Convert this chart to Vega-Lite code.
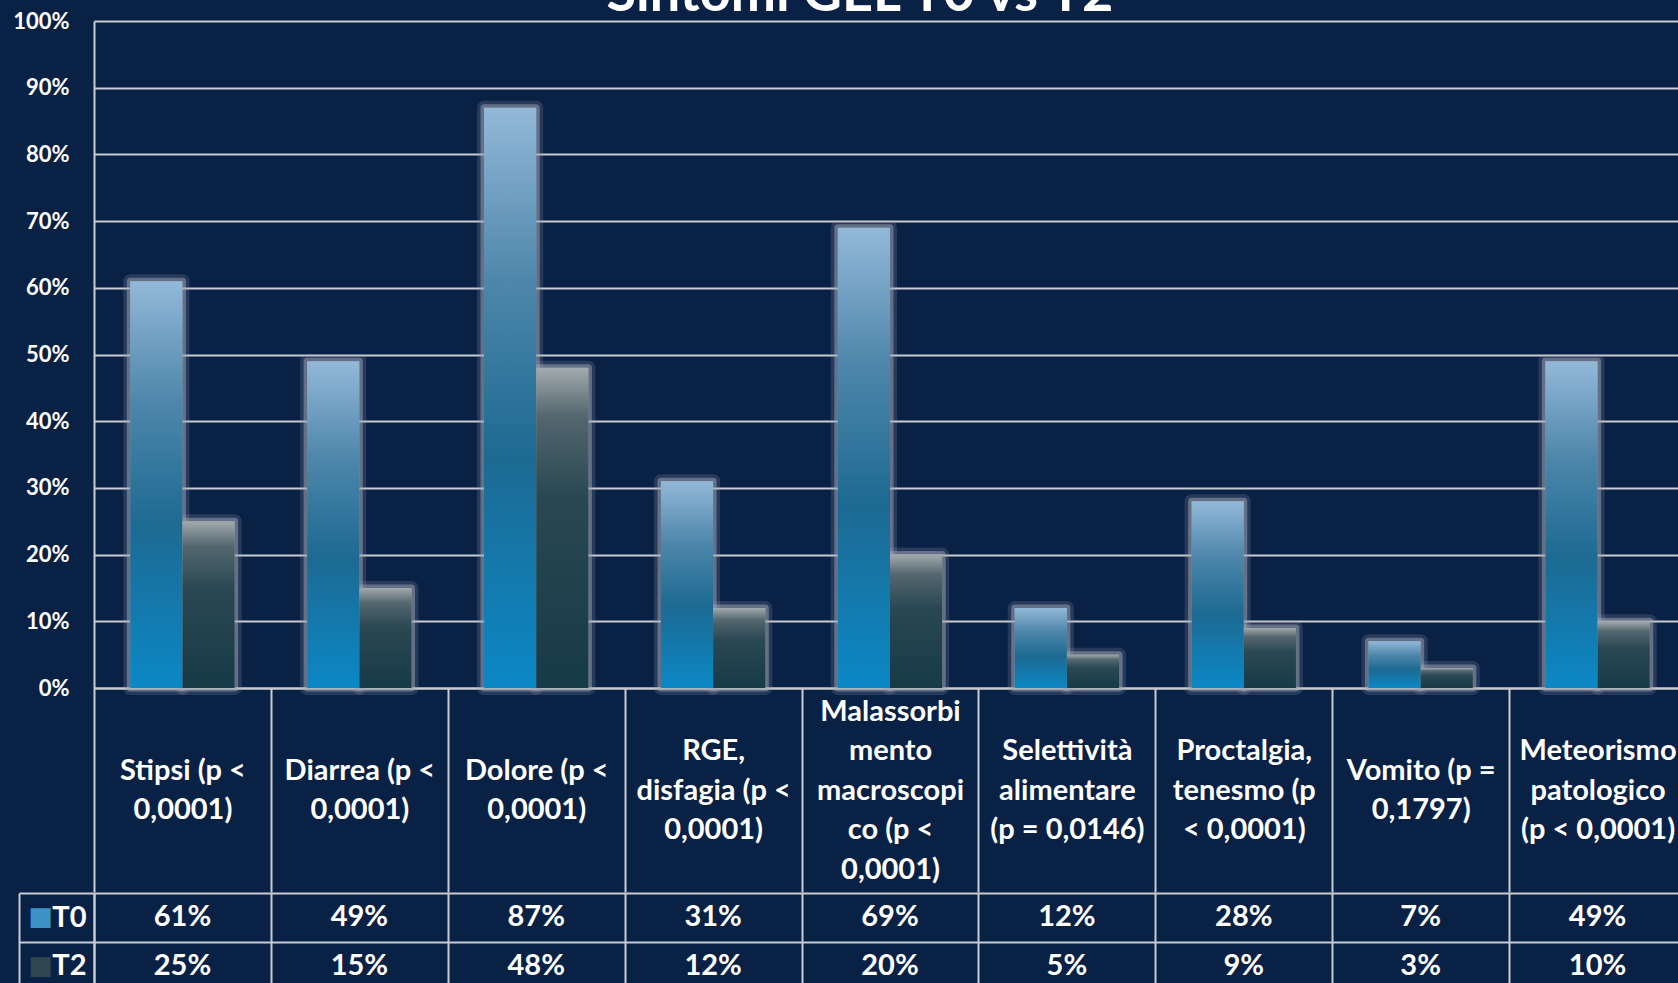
{
  "$schema": "https://vega.github.io/schema/vega-lite/v6.json",
  "background": "#0a2146",
  "padding": {"left": 12, "top": -32, "right": 0, "bottom": 0},
  "config": {"font": "Lato", "view": {"stroke": null}},
  "title": {"text": "Sintomi GEL T0 vs T2", "fontSize": 54, "fontWeight": "bold", "color": "white", "anchor": "middle", "baseline": "bottom", "offset": -66, "dx": 10},
  "spacing": -15,
  "datasets": {
    "sym": [
      {"sintomo": "Stipsi (p <\n0,0001)", "serie": "T0", "valore": 0.61},
      {"sintomo": "Stipsi (p <\n0,0001)", "serie": "T2", "valore": 0.25},
      {"sintomo": "Diarrea (p <\n0,0001)", "serie": "T0", "valore": 0.49},
      {"sintomo": "Diarrea (p <\n0,0001)", "serie": "T2", "valore": 0.15},
      {"sintomo": "Dolore (p <\n0,0001)", "serie": "T0", "valore": 0.87},
      {"sintomo": "Dolore (p <\n0,0001)", "serie": "T2", "valore": 0.48},
      {"sintomo": "RGE,\ndisfagia (p <\n0,0001)", "serie": "T0", "valore": 0.31},
      {"sintomo": "RGE,\ndisfagia (p <\n0,0001)", "serie": "T2", "valore": 0.12},
      {"sintomo": "Malassorbi\nmento\nmacroscopi\nco  (p <\n0,0001)", "serie": "T0", "valore": 0.69},
      {"sintomo": "Malassorbi\nmento\nmacroscopi\nco  (p <\n0,0001)", "serie": "T2", "valore": 0.20},
      {"sintomo": "Selettività\nalimentare\n(p = 0,0146)", "serie": "T0", "valore": 0.12},
      {"sintomo": "Selettività\nalimentare\n(p = 0,0146)", "serie": "T2", "valore": 0.05},
      {"sintomo": "Proctalgia,\ntenesmo  (p\n< 0,0001)", "serie": "T0", "valore": 0.28},
      {"sintomo": "Proctalgia,\ntenesmo  (p\n< 0,0001)", "serie": "T2", "valore": 0.09},
      {"sintomo": "Vomito (p =\n0,1797)", "serie": "T0", "valore": 0.07},
      {"sintomo": "Vomito (p =\n0,1797)", "serie": "T2", "valore": 0.03},
      {"sintomo": "Meteorismo\npatologico\n(p < 0,0001)", "serie": "T0", "valore": 0.49},
      {"sintomo": "Meteorismo\npatologico\n(p < 0,0001)", "serie": "T2", "valore": 0.10}
    ]
  },
  "vconcat": [
    {
      "width": 1592,
      "height": 667,
      "data": {"name": "sym"},
      "encoding": {
        "x": {
          "field": "sintomo", "type": "nominal", "sort": null,
          "scale": {"type": "band", "paddingInner": 0, "paddingOuter": 0},
          "axis": {
            "title": null, "tickBand": "extent", "ticks": true, "tickSize": 204, "tickColor": "#c8ccd2", "tickWidth": 2,
            "domainColor": "#c8ccd2", "domainWidth": 2, "grid": false,
            "labelExpr": "isString(datum.value) ? split(substring('\u2800\\n\u2800\\n\u2800\\n\u2800\\n', 0, 2 * (5 - length(split(datum.value, '\\n')))) + replace(datum.value, regexp('\\n', 'g'), '\\n\u2800\\n'), '\\n') : ''",
            "labelAngle": 0, "labelFontSize": 29, "labelFontWeight": "bold", "labelFont": "Lato",
            "labelColor": "white", "labelLineHeight": 19.75, "labelBaseline": "middle", "labelPadding": -181,
            "labelOverlap": false, "labelBound": false, "labelFlush": false, "labelLimit": 400
          }
        },
        "xOffset": {"field": "serie", "type": "nominal", "scale": {"domain": ["T0", "T2"], "paddingInner": 0, "paddingOuter": 0.695}},
        "y": {
          "field": "valore", "type": "quantitative",
          "scale": {"domain": [0, 1], "nice": false},
          "axis": {
            "title": null, "values": [0, 0.1, 0.2, 0.3, 0.4, 0.5, 0.6, 0.7, 0.8, 0.9, 1], "format": ".0%",
            "ticks": false, "labelPadding": 25, "labelFontSize": 22, "labelFontWeight": "bold", "labelColor": "white",
            "grid": true, "gridColor": "#c8ccd2", "gridWidth": 2, "domainColor": "#c8ccd2", "domainWidth": 2
          }
        }
      },
      "layer": [
        {
          "mark": {"type": "bar", "fill": "#9aa0ae", "fillOpacity": 0.3, "stroke": "#9aa0ae", "strokeWidth": 14, "strokeOpacity": 0.2, "strokeJoin": "round"}
        },
        {
          "mark": {"type": "bar", "fill": "#9aa0ae", "fillOpacity": 0.5, "stroke": "#a0a6b4", "strokeWidth": 7, "strokeOpacity": 0.5, "strokeJoin": "round"}
        },
        {
          "transform": [{"filter": "datum.serie == 'T0'"}],
          "mark": {
            "type": "bar",
            "fill": {"gradient": "linear", "x1": 0, "y1": 0, "x2": 0, "y2": 1,
              "stops": [{"offset": 0, "color": "#93b8d8"}, {"offset": 0.3, "color": "#4d86aa"}, {"offset": 0.6, "color": "#1d6a92"}, {"offset": 1, "color": "#0b88c6"}]}
          }
        },
        {
          "transform": [{"filter": "datum.serie == 'T2'"}],
          "mark": {
            "type": "bar",
            "fill": {"gradient": "linear", "x1": 0, "y1": 0, "x2": 0, "y2": 1,
              "stops": [{"offset": 0, "color": "#a2aaae"}, {"offset": 0.15, "color": "#54676f"}, {"offset": 0.4, "color": "#2a4852"}, {"offset": 1, "color": "#163a47"}]}
          }
        }
      ]
    },
    {
      "width": 1592,
      "height": 97,
      "data": {"name": "sym"},
      "layer": [
        {
          "mark": {"type": "text", "fontSize": 29, "fontWeight": "bold", "color": "white"},
          "encoding": {
            "x": {
              "field": "sintomo", "type": "nominal", "sort": null,
              "scale": {"type": "band", "paddingInner": 0, "paddingOuter": 0},
              "axis": {"title": null, "orient": "bottom", "labels": false, "ticks": false, "domain": false, "grid": true, "tickBand": "extent", "gridColor": "#c8ccd2", "gridWidth": 2}
            },
            "y": {
              "field": "serie", "type": "nominal",
              "scale": {"type": "band", "domain": ["T0", "T2"], "paddingInner": 0, "paddingOuter": 0},
              "axis": {
                "title": null, "orient": "left", "tickBand": "extent", "ticks": true, "tickSize": 75, "tickColor": "#c8ccd2", "tickWidth": 2,
                "grid": true, "gridColor": "#c8ccd2", "gridWidth": 2, "domain": true, "domainColor": "#c8ccd2", "domainWidth": 2,
                "labelAlign": "right", "labelPadding": -67, "labelFontSize": 29, "labelFontWeight": "bold", "labelColor": "white", "labelBaseline": "middle"
              }
            },
            "text": {"field": "valore", "type": "quantitative", "format": ".0%"}
          }
        },
        {
          "mark": {"type": "text", "opacity": 0},
          "encoding": {
            "y": {
              "field": "serie", "type": "nominal",
              "scale": {"type": "band", "domain": ["T0", "T2"], "paddingInner": 0, "paddingOuter": 0},
              "axis": {
                "title": null, "orient": "left", "offset": 75, "ticks": false, "grid": false, "domain": true, "domainColor": "#c8ccd2", "domainWidth": 2,
                "labelExpr": "'■'", "labelAlign": "left", "labelPadding": -9, "labelFontSize": 26, "labelFont": "DejaVu Sans", "labelBaseline": "middle",
                "labelColor": {"condition": {"test": "datum.value == 'T0'", "value": "#3d93c6"}, "value": "#2f474f"}
              }
            },
            "text": {"field": "valore", "type": "quantitative", "format": ".0%"}
          }
        }
      ],
      "resolve": {"scale": {"y": "independent"}, "axis": {"y": "independent"}}
    }
  ]
}
